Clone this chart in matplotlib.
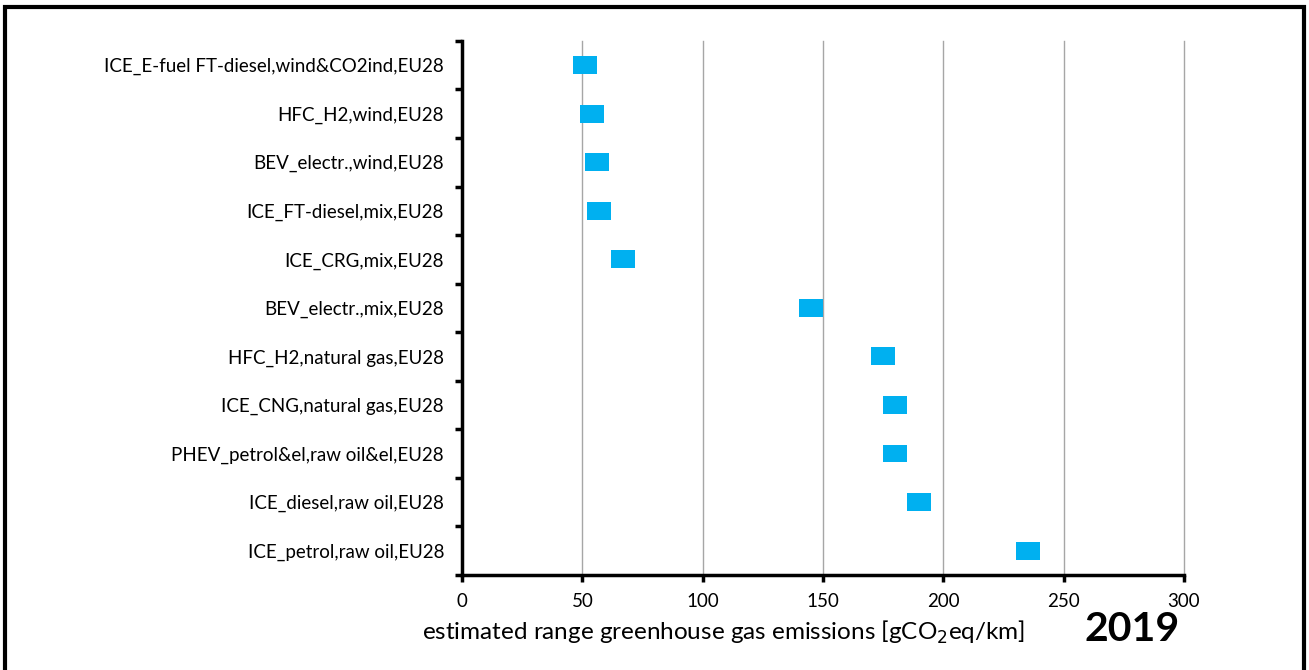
import matplotlib
matplotlib.use("Agg")
import matplotlib.pyplot as plt
from matplotlib.patches import Rectangle

# categories from top to bottom
categories = [
    "ICE_E-fuel FT-diesel,wind&CO2ind,EU28",
    "HFC_H2,wind,EU28",
    "BEV_electr.,wind,EU28",
    "ICE_FT-diesel,mix,EU28",
    "ICE_CRG,mix,EU28",
    "BEV_electr.,mix,EU28",
    "HFC_H2,natural gas,EU28",
    "ICE_CNG,natural gas,EU28",
    "PHEV_petrol&el,raw oil&el,EU28",
    "ICE_diesel,raw oil,EU28",
    "ICE_petrol,raw oil,EU28",
]
# estimated range in gCO2eq/km
low = [46, 49, 51, 52, 62, 140, 170, 175, 175, 185, 230]
high = [56, 59, 61, 62, 72, 150, 180, 185, 185, 195, 240]
xticks = [0, 50, 100, 150, 200, 250, 300]

plt.rcParams["font.family"] = ["Lato", "DejaVu Sans"]

fig = plt.figure(figsize=(13.09, 6.70), dpi=100)
ax = fig.add_axes([0.353, 0.142, 0.5515, 0.797])

n = len(categories)
ypos = [n - 1 - i for i in range(n)]
widths = [h - l for l, h in zip(low, high)]
ax.barh(ypos, widths, left=low, height=0.37, color="#00B0F0", zorder=3)

ax.set_xlim(0, 300)
ax.set_ylim(-0.5, n - 0.5)
ax.set_xticks(xticks)
ax.set_xticklabels([str(t) for t in xticks], fontsize=13.5)
ax.set_yticks(ypos)
ax.set_yticklabels(categories, fontsize=13.5)
ax.tick_params(axis="y", length=0, pad=13)
ax.set_yticks([i - 0.5 for i in range(n + 1)], minor=True)
ax.tick_params(axis="y", which="minor", length=5, width=2.5, direction="out")
ax.tick_params(axis="x", length=5, width=2.5, direction="out", pad=8)

ax.grid(axis="x", color="#A6A6A6", linewidth=1, zorder=0)
for gl in ax.get_xgridlines():
    gl.set_clip_on(False)
for s in ["top", "right"]:
    ax.spines[s].set_visible(False)
ax.spines["left"].set_linewidth(2.5)
ax.spines["bottom"].set_linewidth(2.5)

fig.text(0.553, 0.045, "estimated range greenhouse gas emissions [gCO$_2$eq/km]",
         fontsize=17.5, ha="center", va="baseline")
fig.text(0.901, 0.043, "2019", fontsize=29.5, fontweight="bold", ha="right", va="baseline")

# figure frame (open at the bottom)
fig.patches.append(Rectangle((0.0038, -0.05), 0.9924, 1.04, transform=fig.transFigure,
                             fill=False, edgecolor="black", linewidth=3))

fig.savefig("out.png", dpi=100)
